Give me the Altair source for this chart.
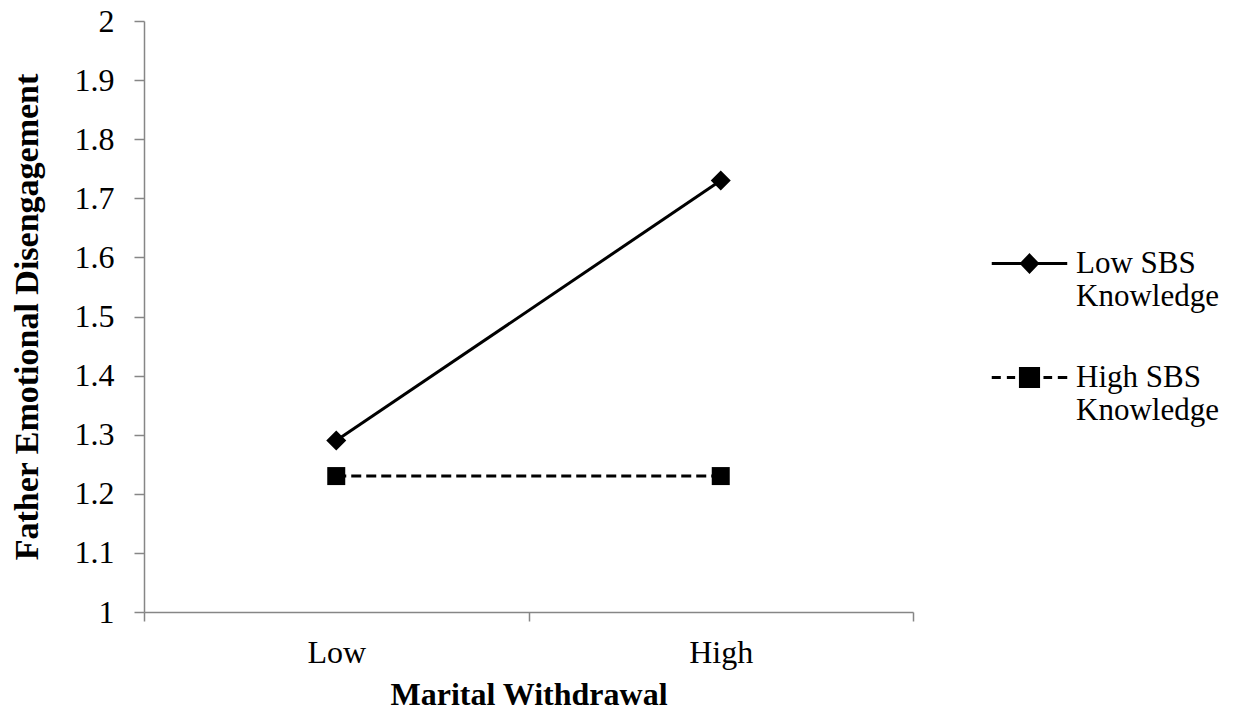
import altair as alt
import pandas as pd

categories = ["Low", "High"]
series_names = ["Low SBS Knowledge", "High SBS Knowledge"]
low_sbs_values = [1.29, 1.73]
high_sbs_values = [1.23, 1.23]
y_ticks = [1.0, 1.1, 1.2, 1.3, 1.4, 1.5, 1.6, 1.7, 1.8, 1.9, 2.0]

rows = []
for s, vals in zip(series_names, [low_sbs_values, high_sbs_values]):
    for c, v in zip(categories, vals):
        rows.append({"withdrawal": c, "series": s, "value": v})
df = pd.DataFrame(rows)

FONT = "Liberation Serif"
AXIS_GRAY = "#868686"

# legend symbols: line + marker (solid/diamond, dashed/square)
sym_low = "M-1,0H1M0,-0.22L0.21,0L0,0.22L-0.21,0Z"
sym_high = "M-1,0H-0.76M-0.6,0H-0.38M0.37,0H0.6M0.75,0H1M-0.24,-0.24H0.24V0.24H-0.24Z"

x_enc = alt.X(
    "withdrawal:N",
    sort=categories,
    scale=alt.Scale(type="band", paddingInner=0, paddingOuter=0),
    axis=alt.Axis(
        title="Marital Withdrawal",
        labelAngle=0,
        tickBand="extent",
        tickSize=9,
        labelPadding=16,
        titlePadding=11,
        labelFont=FONT,
        labelFontSize=32,
        labelColor="black",
        titleFont=FONT,
        titleFontSize=32,
        titleFontWeight="bold",
        titleColor="black",
        domainColor=AXIS_GRAY,
        tickColor=AXIS_GRAY,
        domainWidth=1.5,
        tickWidth=1.5,
    ),
)
y_enc = alt.Y(
    "value:Q",
    scale=alt.Scale(domain=[1, 2], nice=False, zero=False),
    axis=alt.Axis(
        title="Father Emotional Disengagement",
        values=y_ticks,
        format="~g",
        tickSize=10,
        labelPadding=20,
        titlePadding=30,
        labelFont=FONT,
        labelFontSize=32,
        labelColor="black",
        titleFont=FONT,
        titleFontSize=34,
        titleFontWeight="bold",
        titleColor="black",
        domainColor=AXIS_GRAY,
        tickColor=AXIS_GRAY,
        domainWidth=1.5,
        tickWidth=1.5,
    ),
)

base = alt.Chart(df)
low_data = base.transform_filter(alt.datum.series == series_names[0])
high_data = base.transform_filter(alt.datum.series == series_names[1])

line_low = low_data.mark_line(color="black", strokeWidth=3).encode(x=x_enc, y=y_enc)
line_high = high_data.mark_line(color="black", strokeWidth=3, strokeDash=[10, 5]).encode(x=x_enc, y=y_enc)

pts_low = low_data.mark_point(
    shape="diamond", filled=True, size=400, color="black", opacity=1
).encode(x=x_enc, y=y_enc)

pts_high = high_data.mark_point(
    shape="square", filled=True, size=324, color="black", opacity=1
).encode(x=x_enc, y=y_enc)

legend_layer = base.mark_point(
    filled=True, fill="black", stroke="black", strokeWidth=3, opacity=0
).encode(
    x=x_enc,
    y=y_enc,
    shape=alt.Shape(
        "series:N",
        scale=alt.Scale(domain=series_names, range=[sym_low, sym_high]),
        legend=alt.Legend(
            title=None,
            orient="none",
            legendX=846,
            legendY=203,
            padding=0,
            symbolSize=5700,
            symbolStrokeWidth=3,
            symbolOpacity=1,
            labelFont=FONT,
            labelFontSize=31,
            labelColor="black",
            labelOffset=7,
            labelBaseline="middle",
            labelLimit=0,
            rowPadding=26,
            labelExpr="[replace(datum.label, ' Knowledge', ''), 'Knowledge']",
        ),
    ),
)

chart = (
    alt.layer(line_low, line_high, pts_low, pts_high, legend_layer)
    .properties(
        width=769,
        height=591,
        autosize="none",
        padding={"left": 136, "top": 13, "right": 322, "bottom": 100},
    )
    .configure_view(stroke=None)
    .configure_axis(grid=False)
)

chart.save("out.html", embed_options={"renderer": "svg", "actions": False})
